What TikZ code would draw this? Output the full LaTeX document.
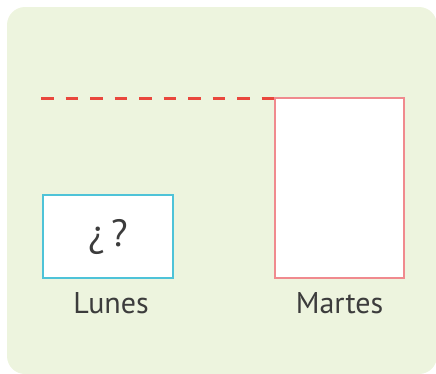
\documentclass[tikz,border=0pt]{standalone}
\usepackage{fontspec}
\setmainfont{PT Sans}
\definecolor{bggreen}{HTML}{EDF4DE}
\definecolor{dashred}{HTML}{E9473D}
\definecolor{boxpink}{HTML}{F08A8E}
\definecolor{boxcyan}{HTML}{4EC3D8}
\definecolor{txt}{HTML}{3C3C3C}
\tikzset{
  barbox/.style={draw, line width=2pt, fill=white, inner sep=0pt, outer sep=0pt},
  lbl/.style={text=txt, font=\fontsize{30}{36}\selectfont, anchor=base, inner sep=0pt},
}
\begin{document}
\begin{tikzpicture}[x=1pt,y=-1pt]
\useasboundingbox (0,0) rectangle (436,373);
\clip (0,0) rectangle (436,373);
\fill[bggreen, rounded corners=18pt] (7,7) rectangle (437,374);
\node[barbox, draw=boxcyan, minimum width=130pt, minimum height=83pt] (lunes) at (108,236.5) {};
\node[barbox, draw=boxpink, minimum width=129pt, minimum height=180pt] (martes) at (339.5,188) {};
\node[text=txt, font=\fontsize{38}{44}\selectfont, inner sep=0pt] (q) at (lunes.center) {¿\,?};
\node[lbl] (llunes) at (111,313) {Lunes};
\node[lbl] (lmartes) at (339.5,313) {Martes};
\coordinate (dstart) at (41,98);
\draw[dashred, line width=3pt, dash pattern=on 12.5pt off 12pt] (dstart) -- (martes.north west);
\end{tikzpicture}
\end{document}
